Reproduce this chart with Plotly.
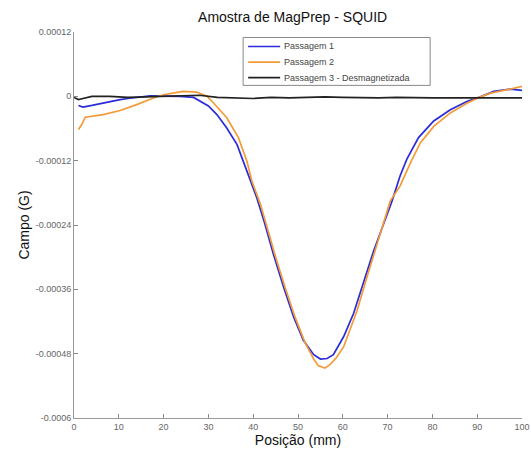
import plotly.graph_objects as go

# Passagem 1 (blue)
p1_x = [1, 2, 4, 6.5, 8, 10.3, 12, 14, 17, 20, 23.7, 26.7, 28.2, 30, 31.9, 34.1, 36.4, 37.8,
        39.3, 40.8, 42.5, 44.5, 46.8, 49, 51.2, 53.5, 55, 56.5, 57.9, 60.2, 62.4, 64.6, 66.9,
        69.1, 71, 72.8, 74.3, 76.9, 80.3, 84, 87.8, 90.7, 93.7, 97.4, 100]
p1_y = [-1.7, -2.0, -1.7, -1.24, -1.0, -0.6, -0.4, -0.2, 0.1, 0.05, 0.0, -0.2, -0.9, -1.8,
        -3.4, -5.9, -9.0, -12.1, -15.2, -18.9, -23.5, -29.4, -35.6, -41.1, -45.5, -48.2,
        -49.0, -48.9, -48.2, -44.8, -40.5, -34.9, -28.8, -23.8, -19.5, -14.8, -11.7, -7.7,
        -4.6, -2.5, -0.93, -0.1, 0.93, 1.35, 1.1]

# Passagem 2 (orange)
p2_x = [1, 1.7, 2.5, 4, 6.5, 10.3, 12, 14, 17.7, 20, 22, 24.4, 27.4, 28.5, 29.7, 31.1, 32,
        34.1, 36.7, 38.6, 39.7, 41.6, 43.1, 44.8, 47.1, 49.3, 51.5, 53.5, 54.5, 56, 57.2,
        58.5, 60.2, 63.2, 65.4, 67.6, 70.6, 72.8, 75.1, 77.3, 80.3, 84, 87.8, 90.7, 93,
        96.7, 100]
p2_y = [-6.2, -5.3, -3.9, -3.7, -3.4, -2.65, -2.2, -1.55, -0.3, 0.3, 0.6, 0.93, 0.8, 0.4,
        0.0, -1.2, -2.0, -4.0, -7.7, -12.1, -15.8, -20.1, -24.4, -29.4, -35.6, -41.1, -45.8,
        -49.0, -50.2, -50.7, -50.0, -48.8, -46.7, -39.9, -33.7, -27.5, -19.5, -16.7, -12.4,
        -8.7, -5.6, -3.1, -1.24, -0.1, 0.6, 1.24, 1.86]

# Passagem 3 - Desmagnetizada (black)
p3_x = [0, 1, 2, 4, 8, 12, 16, 20, 24, 28, 32, 36, 40, 44, 48, 52, 56, 60, 64, 68, 72, 76,
        80, 84, 88, 92, 96, 100]
p3_y = [-0.2, -0.6, -0.4, 0.0, 0.0, -0.2, -0.1, 0.0, 0.1, 0.2, -0.2, -0.3, -0.4, -0.2,
        -0.3, -0.2, -0.1, -0.2, -0.3, -0.3, -0.2, -0.3, -0.3, -0.3, -0.3, -0.2, -0.3, -0.3]

series_names = ["Passagem 1", "Passagem 2", "Passagem 3 - Desmagnetizada"]
series_colors = ["#2b2bd9", "#f29b38", "#222222"]

scale = 1e-5
y_ticks = [-0.0006, -0.00048, -0.00036, -0.00024, -0.00012, 0, 0.00012]
y_tick_text = ["-0.0006", "-0.00048", "-0.00036", "-0.00024", "-0.00012", "0", "0.00012"]
x_ticks = [0, 10, 20, 30, 40, 50, 60, 70, 80, 90, 100]

fig = go.Figure()
for xs, ys, nm, col in [(p1_x, p1_y, series_names[0], series_colors[0]),
                        (p2_x, p2_y, series_names[1], series_colors[1]),
                        (p3_x, p3_y, series_names[2], series_colors[2])]:
    fig.add_trace(go.Scatter(x=xs, y=[v * scale for v in ys], mode="lines", name=nm,
                             line=dict(color=col, width=1.7), showlegend=False))

# Manual legend box (paper coordinates)
fig.add_shape(type="rect", xref="paper", yref="paper", x0=0.3775, x1=0.795, y0=0.8617,
              y1=0.9858, line=dict(color="#888", width=1), fillcolor="white", layer="above")
row_y = [0.9625, 0.9219, 0.8816]
for ry, nm, col in zip(row_y, series_names, series_colors):
    fig.add_shape(type="line", xref="paper", yref="paper", x0=0.3887, x1=0.4601, y0=ry, y1=ry,
                  line=dict(color=col, width=1.7), layer="above")
    fig.add_annotation(xref="paper", yref="paper", x=0.4646, y=ry, text=nm, showarrow=False,
                       xanchor="left", yanchor="middle", font=dict(size=9, color="#444"))

font_family = "Liberation Sans, Arial, sans-serif"
fig.update_layout(
    width=531, height=453,
    margin=dict(l=74, r=9.3, t=31.5, b=34.7),
    paper_bgcolor="white", plot_bgcolor="white",
    font=dict(family=font_family, color="#222"),
    title=dict(text="Amostra de MagPrep - SQUID", xref="paper", x=0.488, xanchor="center",
               yref="container", y=0.9625, yanchor="middle", font=dict(size=14, color="#111")),
    showlegend=False,
    xaxis=dict(range=[0, 100], tickvals=x_ticks, ticks="inside", ticklen=4,
               tickcolor="#888", showline=True, linecolor="#999", linewidth=1,
               showgrid=False, zeroline=False, tickfont=dict(size=9, color="#666"),
               automargin=False,
               title=dict(text="Posição (mm)", font=dict(size=14, color="#111"), standoff=2)),
    yaxis=dict(range=[-0.0006, 0.00012], tickvals=y_ticks, ticktext=y_tick_text,
               ticks="inside", ticklen=4, tickcolor="#888", showline=True,
               linecolor="#999", linewidth=1, showgrid=False, zeroline=False,
               tickfont=dict(size=9, color="#666"), automargin=False,
               title=dict(text="Campo (G)", font=dict(size=14, color="#111"), standoff=2)),
)

fig.write_html("out.html", config={"displayModeBar": False},
               post_script="document.body.style.margin='0';document.body.style.padding='0';")
